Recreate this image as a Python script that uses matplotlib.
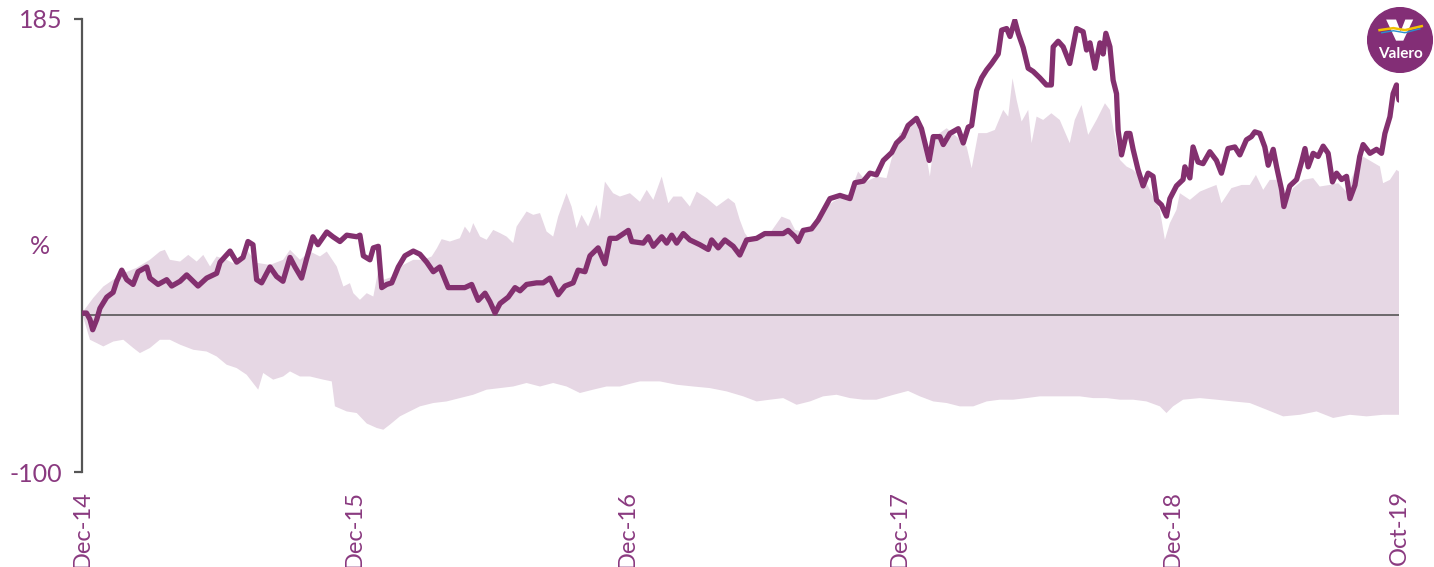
import numpy as np
import matplotlib
matplotlib.use("Agg")
from matplotlib import pyplot as plt
from matplotlib.patches import Circle, Polygon

# Valero total shareholder return, % (months since Dec-14)
valero_m = [0.0, 0.2, 0.35, 0.47, 0.65, 0.79, 1.09, 1.37, 1.53, 1.75, 1.97, 2.25, 2.47, 2.85, 2.99,
            3.35, 3.73, 3.95, 4.32, 4.61, 5.11, 5.49, 5.93, 6.08, 6.52, 6.81, 7.09, 7.31, 7.53, 7.69,
            7.91, 8.28, 8.57, 8.85, 9.16, 9.38, 9.67, 9.89, 10.17, 10.39, 10.78, 11.05, 11.36, 11.66,
            12.1, 12.24, 12.39, 12.68, 12.83, 13.05, 13.2, 13.42, 13.64, 13.93, 14.22, 14.59, 14.88,
            15.18, 15.47, 15.76, 16.13, 16.5, 16.86, 17.16, 17.45, 17.75, 17.97, 18.19, 18.41, 18.77,
            19.07, 19.29, 19.58, 20.02, 20.31, 20.61, 20.97, 21.27, 21.63, 21.85, 22.15, 22.37, 22.73,
            23.03, 23.25, 23.54, 24.06, 24.21, 24.72, 24.94, 25.16, 25.53, 25.75, 25.97, 26.19, 26.48,
            26.77, 27.21, 27.58, 27.73, 28.02, 28.31, 28.68, 28.97, 29.27, 29.71, 30.07, 30.51, 30.88,
            31.1, 31.4, 31.54, 31.76, 32.13, 32.42, 32.94, 33.38, 33.82, 34.04, 34.41, 34.7, 34.99,
            35.29, 35.66, 35.87, 36.16, 36.38, 36.75, 36.97, 37.19, 37.31, 37.49, 37.78, 37.93, 38.22,
            38.59, 38.81, 39.03, 39.18, 39.4, 39.62, 39.84, 40.06, 40.35, 40.5, 40.72, 40.87, 41.08,
            41.23, 41.45, 41.67, 41.89, 42.18, 42.47, 42.69, 42.77, 42.99, 43.21, 43.5, 43.8, 44.09,
            44.24, 44.39, 44.61, 44.83, 44.97, 45.09, 45.27, 45.41, 45.56, 45.63, 45.78, 46.0, 46.15,
            46.29, 46.51, 46.73, 46.95, 47.17, 47.32, 47.54, 47.76, 47.91, 48.2, 48.49, 48.57, 48.79,
            48.93, 49.15, 49.37, 49.67, 49.96, 50.18, 50.47, 50.77, 50.99, 51.28, 51.5, 51.65, 51.87,
            52.09, 52.24, 52.46, 52.61, 52.83, 52.93, 53.19, 53.49, 53.71, 53.86, 54.0, 54.22, 54.44,
            54.66, 54.88, 55.07, 55.25, 55.47, 55.69, 55.84, 56.06, 56.27, 56.42, 56.72, 57.01, 57.23,
            57.38, 57.6, 57.74, 57.89, 58.0]
valero_pct = [0, 0, -4, -10.5, -4, 3, 10, 13, 20, 27, 21, 18, 26, 29, 22,
              18, 21, 17, 20, 24, 17, 22, 25, 32, 39, 32, 35, 45, 43, 21,
              19, 29, 23, 20, 35, 29, 22, 34, 48, 43, 51, 48, 45, 49,
              48, 49, 36, 33.5, 41, 42, 16, 18, 19, 29, 36, 39, 37,
              32, 26, 29, 16, 16, 16, 18, 8, 12.5, 7, 0, 6, 10,
              16, 14, 18, 19, 19, 22, 11.5, 17, 19, 27, 26, 36, 41,
              31, 47, 47, 52, 45, 44, 48, 42, 48, 44, 49, 44, 50,
              46, 43, 40, 46, 41, 46, 42, 36.5, 46, 47, 50, 50, 50,
              52, 48, 45, 52, 53, 58.5, 72, 74, 72, 82, 83, 88, 87,
              96, 101, 107, 111, 118, 122.5, 116, 103, 96, 111, 111, 106, 113,
              116, 107, 117, 118, 140, 148, 153, 157, 163, 178, 179, 174, 184,
              176, 167, 154, 152, 148, 143.5, 143.5, 167.5, 171, 167.5, 157, 179, 177,
              165.5, 170, 154, 170, 163, 176, 167.5, 146.5, 138, 115, 99.5, 113, 113,
              103, 90, 80, 88, 86, 71, 68, 61, 72, 80, 84, 92, 85,
              104.5, 95, 94, 101.5, 96, 88, 103.5, 104.5, 99.5, 109, 111, 114, 113,
              104.5, 93, 103, 92, 77.5, 67, 80, 84, 95, 103.5, 92, 100.5, 98.5,
              105, 100.5, 82.5, 88, 84, 86, 72, 80.5, 98.5, 106, 100.5, 103, 100.5,
              113, 123.5, 138, 143.5, 134]

# peer group range, top edge
peer_hi_m = [0.0, 0.5, 0.94, 1.38, 1.82, 2.41, 2.99, 3.43, 3.65, 3.87, 4.32, 4.68, 5.05, 5.34, 5.64,
             5.93, 6.37, 6.81, 7.25, 7.69, 8.28, 8.86, 9.16, 9.6, 10.04, 10.48, 10.78, 11.22, 11.51,
             11.8, 11.95, 12.24, 12.54, 12.83, 13.05, 13.27, 13.71, 14.15, 14.59, 15.03, 15.4, 15.63,
             15.84, 16.2, 16.64, 16.86, 17.08, 17.23, 17.53, 17.82, 18.11, 18.41, 18.7, 18.99, 19.14,
             19.58, 19.87, 20.17, 20.46, 20.75, 20.97, 21.34, 21.56, 21.78, 22.0, 22.29, 22.66, 22.81,
             23.03, 23.39, 23.69, 24.13, 24.57, 24.87, 25.16, 25.53, 25.82, 26.04, 26.41, 26.77, 27.07,
             27.51, 27.95, 28.46, 28.75, 28.97, 29.19, 29.41, 29.85, 30.3, 30.81, 31.18, 31.4, 31.76,
             32.2, 32.64, 33.08, 33.52, 33.82, 34.18, 34.55, 34.99, 35.43, 35.66, 36.02, 36.38, 36.6,
             36.9, 37.19, 37.34, 37.56, 38.08, 38.52, 38.96, 39.18, 39.47, 39.84, 40.2, 40.57, 40.79,
             40.98, 41.16, 41.38, 41.67, 41.82, 42.04, 42.33, 42.69, 43.06, 43.5, 43.72, 44.02, 44.31,
             44.68, 45.05, 45.27, 45.49, 45.71, 46.0, 46.29, 46.59, 46.88, 47.17, 47.47, 47.69, 47.91,
             48.2, 48.35, 48.79, 49.23, 49.6, 49.96, 50.18, 50.62, 51.07, 51.43, 51.7, 52.02, 52.31,
             52.61, 52.9, 53.34, 53.78, 54.22, 54.51, 54.95, 55.32, 55.69, 56.12, 56.42, 56.79, 57.16,
             57.3, 57.6, 57.89, 58.0]
peer_hi = [0, 9.6, 16.7, 21, 25, 28.5, 33.5, 38.7, 39.8, 33.5, 32.4, 36.6, 32.4, 36.6, 29.3,
           35.6, 33.5, 30.3, 39.8, 31.6, 30.3, 33.5, 39.8, 33.5, 38.7, 35.6, 38.7, 29.3, 16.7,
           18.8, 12.5, 8.3, 12.5, 10.4, 27.2, 20.9, 23, 30.3, 33.5, 33.5, 35.6, 40.8,
           46.5, 45, 47.1, 54.4, 50.3, 56.6, 48.1, 46.1, 52.3, 50.3, 48.1, 44, 54.4,
           63.9, 61.8, 62.9, 51.3, 48.1, 60.7, 75.4, 67, 53.4, 61.8, 54.4, 68.1, 58.6,
           82.7, 75.4, 73.3, 75.4, 70, 77.5, 71.2, 85.9, 69.1, 73.3, 73.3, 67, 76.4,
           72.3, 67, 72.3, 69.1, 58.6, 50.3, 46.1, 48.1, 50.3, 60.7, 58.6, 52.3, 51.3,
           55.5, 64.9, 70.1, 73.3, 75.4, 89, 82.7, 85.9, 84.9, 97.4, 113.2, 115.2, 121.5,
           115.2, 98.4, 85.9, 111, 116.3, 111, 104.7, 91.1, 113.2, 113.2, 115.2, 127.8, 123.6,
           147.7, 134.1, 120.5, 127.8, 106.9, 123.6, 121.5, 125.7, 121.5, 106.9, 121.5, 130.9, 112.1,
           121.5, 132, 127.8, 111, 96.4, 92.2, 90.1, 85.9, 81.7, 73.3, 64.9, 46.1, 56.6,
           64.9, 75.4, 71.2, 76.4, 78.6, 80.6, 69.1, 78.6, 80.6, 80.6, 86.9, 77.5, 83.8,
           83.8, 67, 78.6, 83.8, 84.9, 79.6, 80.6, 81.7, 76.4, 92.2, 98.4, 95.3, 92.2,
           81.7, 83.8, 90.1, 89]

# peer group range, bottom edge
peer_lo_m = [0.0, 0.35, 0.65, 0.94, 1.38, 1.82, 2.26, 2.55, 2.99, 3.43, 3.87, 4.32, 4.9, 5.49, 5.93,
             6.37, 6.81, 7.25, 7.76, 7.98, 8.42, 8.86, 9.16, 9.6, 10.04, 10.63, 11.0, 11.14, 11.66,
             12.1, 12.54, 12.98, 13.27, 13.56, 14.0, 14.29, 14.88, 15.47, 16.06, 16.64, 17.23, 17.82,
             18.41, 18.99, 19.58, 20.17, 20.75, 21.34, 21.93, 22.51, 23.1, 23.69, 24.28, 24.57, 25.45,
             26.19, 26.92, 27.65, 28.39, 29.12, 29.71, 30.3, 30.88, 31.47, 32.06, 32.64, 33.23, 33.82,
             34.41, 34.99, 35.72, 36.38, 36.9, 37.49, 38.08, 38.66, 39.25, 39.84, 40.42, 41.01, 41.6,
             42.18, 42.77, 43.35, 43.94, 44.53, 45.12, 45.71, 46.29, 46.88, 47.47, 47.76, 48.05, 48.49,
             49.23, 49.96, 50.7, 51.43, 52.17, 52.9, 53.64, 54.37, 55.1, 55.84, 56.57, 57.3, 58.0]
peer_lo = [0, -16.8, -18.9, -21, -17.9, -16.8, -22, -25.2, -22, -16.8, -16.8, -19.9, -23.1, -24.2, -27.3,
           -32.5, -34.6, -38.8, -48.2, -37.7, -41.9, -39.9, -36.7, -39.9, -39.9, -41.9, -43, -58.7, -61.9,
           -62.9, -69.5, -72.3, -73.4, -70.2, -65, -62.9, -58.7, -56.6, -55.6, -53.5, -51.4, -48.2,
           -47.2, -46.2, -44, -46.2, -44, -46.2, -50.3, -48.2, -46.2, -46.2, -44, -43, -43,
           -45.1, -46.2, -47.2, -49.3, -52.4, -55.6, -54.5, -53.5, -57.7, -55.6, -52.4, -51.4, -53.5,
           -54.5, -54.5, -51.5, -49, -52.4, -55.6, -56.6, -58.7, -58.7, -55.6, -54.5, -54.5, -53.5,
           -52.4, -52.4, -52.4, -52.4, -53.5, -53.5, -54.5, -54.5, -55.6, -58.7, -62.9, -58.7, -54.5,
           -53.5, -54.5, -55.6, -56.6, -60.8, -65, -64, -61.9, -66, -64, -65, -64, -64]

tick_pos = [0, 12, 24, 36, 48, 58]
tick_labels = ["Dec-14", "Dec-15", "Dec-16", "Dec-17", "Dec-18", "Oct-19"]

purple = "#83306F"
text_purple = "#8A3A80"
band_col = "#E6D7E4"

plt.rcParams["font.family"] = ["Lato", "DejaVu Sans"]

fig = plt.figure(figsize=(14.34, 5.67), dpi=100)
ax = fig.add_axes([82 / 1434, 1 - 472 / 567, (1399 - 82) / 1434, (472 - 19) / 567])

# peer range band as one polygon
band_x = np.concatenate([peer_hi_m, peer_lo_m[::-1]])
band_y = np.concatenate([peer_hi, peer_lo[::-1]])
ax.fill(band_x, band_y, color=band_col, lw=0, zorder=1)

ax.axhline(-1.5, color="#4a4a4a", lw=1.1, zorder=2)
ax.plot(valero_m, valero_pct, color=purple, lw=3.8, solid_joinstyle="round",
        solid_capstyle="round", zorder=3)

ax.set_xlim(0, 58)
ax.set_ylim(-100, 185)
ax.set_yticks([-100, 185])
ax.set_yticklabels(["-100", "185"])
ax.set_xticks(tick_pos)
ax.set_xticklabels(tick_labels, rotation=90, va="top", ha="center")

for s in ["top", "right", "bottom"]:
    ax.spines[s].set_visible(False)
ax.spines["left"].set_color("#555555")
ax.spines["left"].set_linewidth(1.6)
ax.tick_params(axis="y", direction="out", length=6, width=1.6, color="#555555",
               labelcolor=text_purple, labelsize=18, pad=8)
ax.tick_params(axis="x", length=0, labelcolor=text_purple, labelsize=17, pad=13)

fig.text(40 / 1434, 1 - 246 / 567, "%", color=text_purple, fontsize=18, ha="center", va="center")

# logo badge
lax = fig.add_axes([1367 / 1434, 1 - 73 / 567, 66 / 1434, 66 / 567])
lax.set_xlim(-1, 1)
lax.set_ylim(-1, 1)
lax.set_aspect("equal")
lax.axis("off")
lax.add_patch(Circle((0, 0), 0.98, color="#832E76"))
lax.add_patch(Polygon([(-0.42, 0.62), (-0.12, 0.62), (0.02, 0.26), (0.16, 0.62), (0.40, 0.62),
                       (0.10, -0.02), (-0.12, -0.02)], closed=True, color="white", lw=0))
lax.plot([-0.62, -0.2, 0.15, 0.66], [0.30, 0.36, 0.30, 0.42], color="#F2C200", lw=1.8)
lax.plot([-0.55, -0.2, 0.15, 0.6], [0.22, 0.28, 0.22, 0.34], color="#2A8FD0", lw=1.0)
lax.text(0, -0.42, "Valero", color="white", fontsize=11, fontweight="bold", ha="center", va="center")

fig.savefig("out.png", dpi=100)
